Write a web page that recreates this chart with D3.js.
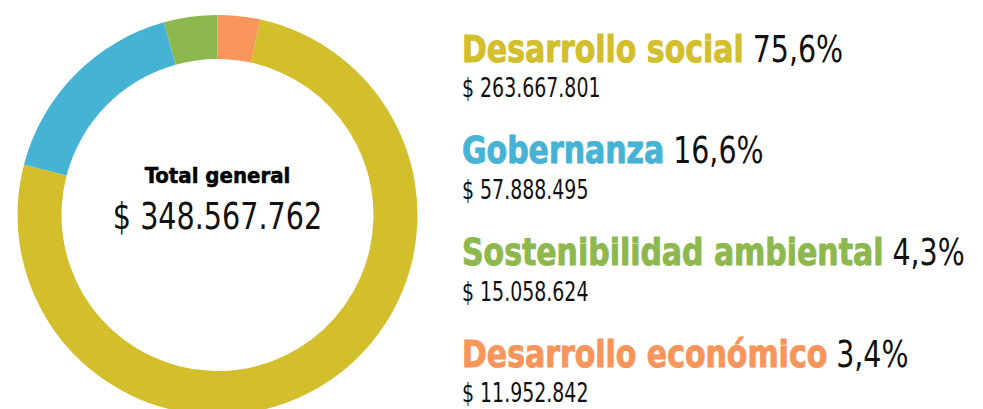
<!DOCTYPE html>
<html>
<head>
<meta charset="utf-8">
<style>
  body { margin: 0; background: #fff; }
  svg text { font-family: "Liberation Sans Narrow", "DejaVu Sans Condensed", sans-serif; }
</style>
</head>
<body>
<div id="chart"></div>
<script src="https://d3js.org/d3.v7.min.js"></script>
<script>
  // datos
  const categories = ["Desarrollo social", "Gobernanza", "Sostenibilidad ambiental", "Desarrollo económico"];
  const amounts = [263667801, 57888495, 15058624, 11952842];
  const colors = ["#d3be2c", "#46b3d5", "#8db84e", "#f7955a"];
  const totalLabel = "Total general";

  const width = 983, height = 409;
  const cx = 217.5, cy = 215, outerR = 200, innerR = 156;

  const es = d3.formatLocale({ decimal: ",", thousands: ".", grouping: [3], currency: ["$ ", ""] });
  const money = es.format("$,.0f");
  const pct = es.format(".1%");

  const total = d3.sum(amounts);

  const svg = d3.select("#chart").append("svg")
    .attr("width", width)
    .attr("height", height);

  // la fuente disponible es mas ancha que la original: se comprime en x
  const squeeze = (sel, x, y, sx) => sel.attr("transform", `translate(${x},${y}) scale(${sx},1)`);

  // el anillo arranca despues del ultimo segmento (desarrollo economico)
  const start = 2 * Math.PI * amounts[amounts.length - 1] / total;
  const pie = d3.pie().sort(null).startAngle(start).endAngle(start + 2 * Math.PI);
  const arc = d3.arc().innerRadius(innerR).outerRadius(outerR);

  svg.append("g")
    .attr("transform", `translate(${cx},${cy})`)
    .selectAll("path")
    .data(pie(amounts))
    .join("path")
    .attr("d", arc)
    .attr("fill", (d, i) => colors[i]);

  // texto central
  svg.append("text")
    .attr("x", cx).attr("y", 183)
    .attr("text-anchor", "middle")
    .attr("font-size", 22).attr("font-weight", "bold")
    .attr("stroke", "#000").attr("stroke-width", 0.5)
    .text(totalLabel);

  svg.append("text")
    .attr("text-anchor", "middle")
    .attr("font-size", 37)
    .attr("fill", "#111")
    .text(money(total))
    .call(squeeze, cx, 229, 0.86);

  // leyenda
  categories.forEach((name, i) => {
    const y = 61.7 + i * 101.7;
    const t = svg.append("text")
      .attr("font-size", 37).attr("font-weight", "bold")
      .attr("fill", colors[i])
      .attr("stroke", colors[i]).attr("stroke-width", 0.9)
      .text(name)
      .call(squeeze, 462, y, 0.9);
    const w = t.node().getComputedTextLength() * 0.9;

    svg.append("text")
      .attr("font-size", 37)
      .attr("fill", "#111")
      .text(pct(amounts[i] / total))
      .call(squeeze, 462 + w + 9, y, 0.855);

    svg.append("text")
      .attr("font-size", 27)
      .attr("fill", "#111")
      .text(money(amounts[i]))
      .call(squeeze, 462, y + 35.5, 0.78);
  });
</script>
</body>
</html>
